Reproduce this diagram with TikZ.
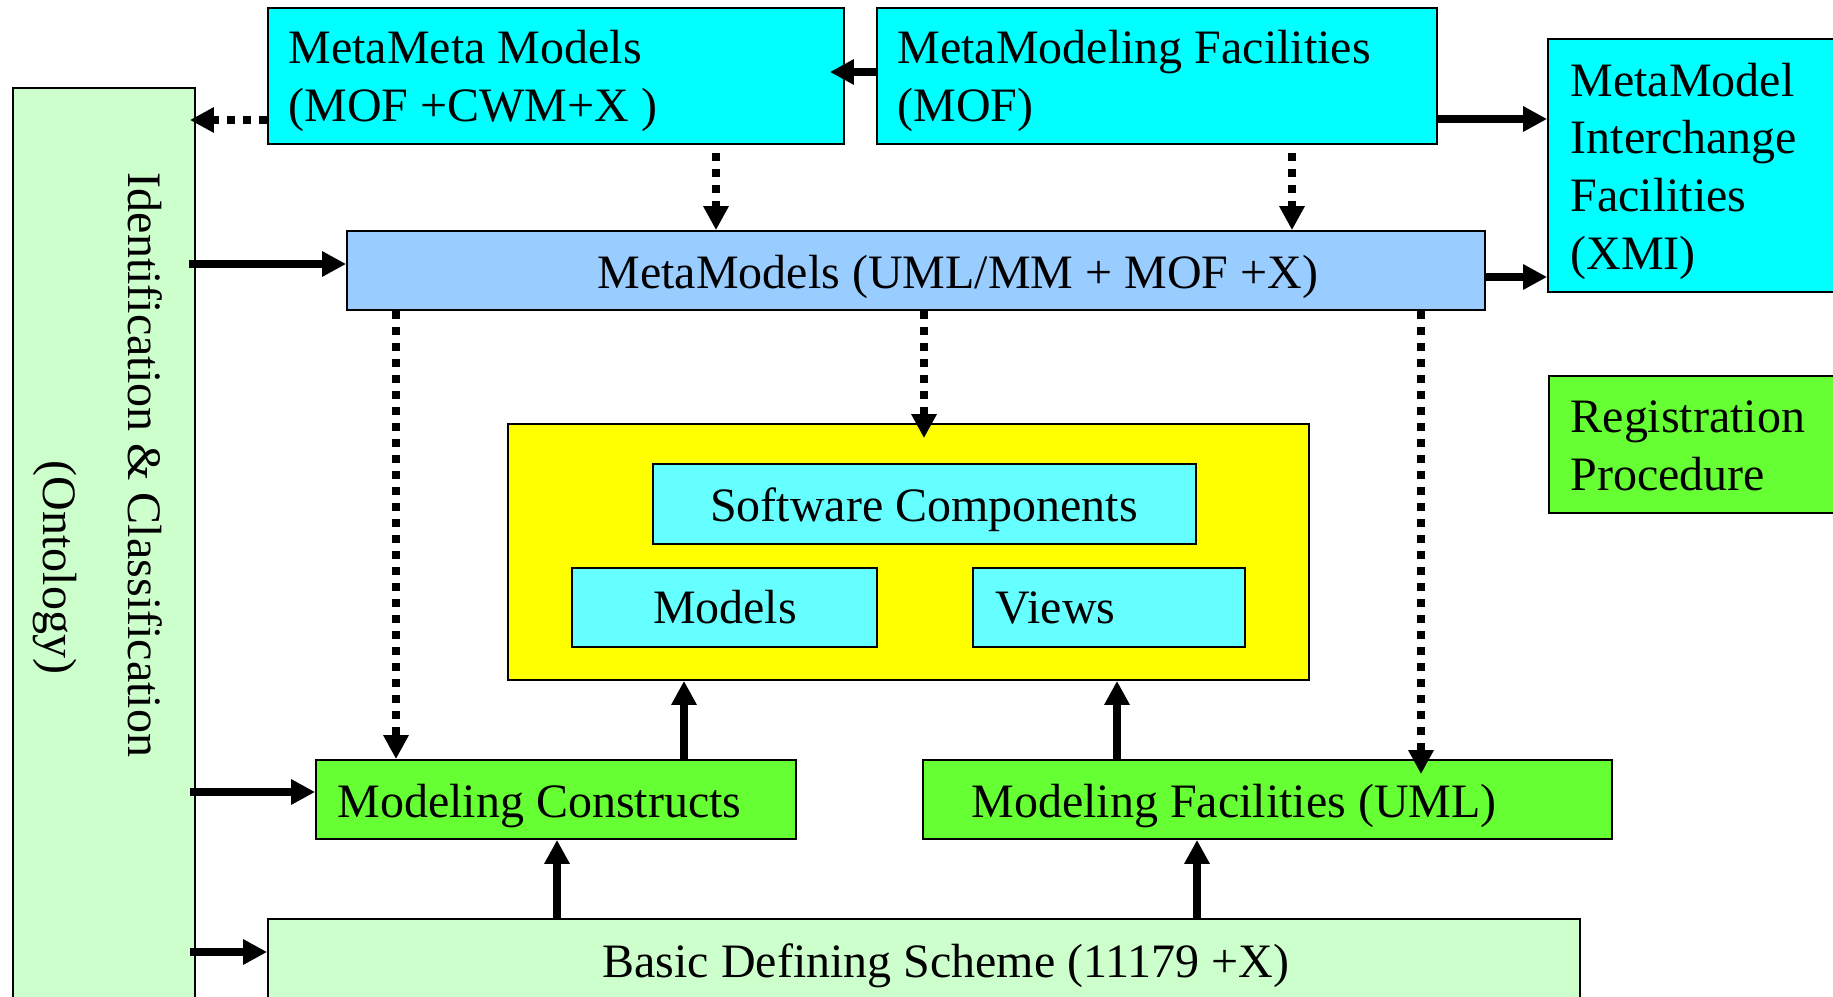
\documentclass[tikz,border=0pt]{standalone}
\usepackage{fontspec}
\setmainfont{Liberation Serif}
\usetikzlibrary{arrows.meta,fit}
\definecolor{cyanA}{HTML}{00FFFF}
\definecolor{cyanB}{HTML}{66FFFF}
\definecolor{blueA}{HTML}{99CCFF}
\definecolor{yellowA}{HTML}{FFFF00}
\definecolor{greenA}{HTML}{66FF33}
\definecolor{paleA}{HTML}{CCFFCC}
\tikzset{
  box/.style={draw=black, line width=0.5pt, inner sep=0pt},
  lbl/.style={font=\fontsize{13.64pt}{16.5pt}\selectfont, inner sep=0pt},
  rlbl/.style={font=\fontsize{13.66pt}{16.5pt}\selectfont, inner sep=0pt, rotate=-90, anchor=base west},
  arr/.style={line width=0.08cm, -{Triangle[length=0.24cm,width=0.24cm]}},
  darr/.style={arr, dash pattern=on 0.08cm off 0.08cm},
}
\begin{document}
\begin{tikzpicture}[x=0.01cm,y=-0.01cm]
\useasboundingbox (0,0) rectangle (1833,997);
\clip (0,0) rectangle (1833,997);
\fill[white] (0,0) rectangle (1833,997);
% boxes
\node[box, fill=paleA, fit={(13,88)(195,1030)}] (ident) {};
\node[box, fill=cyanA, fit={(268,8)(844,144)}] (mmm) {};
\node[box, fill=cyanA, fit={(877,8)(1437,144)}] (mmf) {};
\node[box, fill=cyanA, fit={(1548,39)(1860,292)}] (mmi) {};
\node[box, fill=blueA, fit={(347,231)(1485,310)}] (mmodels) {};
\node[box, fill=yellowA, fit={(508,424)(1309,680)}] (yellow) {};
\node[box, fill=cyanB, fit={(653,464)(1196,544)}] (sc) {};
\node[box, fill=cyanB, fit={(572,568)(877,647)}] (models) {};
\node[box, fill=cyanB, fit={(973,568)(1245,647)}] (views) {};
\node[box, fill=greenA, fit={(1549,376)(1860,513)}] (reg) {};
\node[box, fill=greenA, fit={(316,760)(796,839)}] (mc) {};
\node[box, fill=greenA, fit={(923,760)(1612,839)}] (mf) {};
\node[box, fill=paleA, fit={(268,919)(1580,1030)}] (basic) {};
% texts
\node[rlbl] (t-ident1) at (128,172) {Identification \& Classification};
\node[rlbl] (t-ident2) at (44,460) {(Ontology)};
\node[lbl, anchor=base west] (t-mmm1) at (288,64) {MetaMeta Models};
\node[lbl, anchor=base west] (t-mmm2) at (288,122) {(MOF +CWM+X )};
\node[lbl, anchor=base west] (t-mmf1) at (897,64) {MetaModeling Facilities};
\node[lbl, anchor=base west] (t-mmf2) at (897,122) {(MOF)};
\node[lbl, anchor=base west] (t-mmi1) at (1570,97) {MetaModel};
\node[lbl, anchor=base west] (t-mmi2) at (1570,154) {Interchange};
\node[lbl, anchor=base west] (t-mmi3) at (1570,212) {Facilities};
\node[lbl, anchor=base west] (t-mmi4) at (1570,269) {(XMI)};
\node[lbl, anchor=base west] (t-mmodels) at (597,288) {MetaModels (UML/MM + MOF +X)};
\node[lbl, anchor=base] (t-sc) at (924,521) {Software Components};
\node[lbl, anchor=base] (t-models) at (725,623) {Models};
\node[lbl, anchor=base west] (t-views) at (995,623) {Views};
\node[lbl, anchor=base west] (t-reg1) at (1570,432) {Registration};
\node[lbl, anchor=base west] (t-reg2) at (1570,490) {Procedure};
\node[lbl, anchor=base west] (t-mc) at (337,817) {Modeling Constructs};
\node[lbl, anchor=base west] (t-mf) at (971,817) {Modeling Facilities (UML)};
\node[lbl, anchor=base] (t-basic) at (946,977) {Basic Defining Scheme (11179 +X)};
% connectors
\draw[darr, shorten >=-0.06cm] (mmm.west |- 0,120) -- (ident.east |- 0,120);
\draw[arr, shorten >=-0.15cm] (mmf.west |- 0,72) -- (mmm.east |- 0,72);
\draw[darr, shorten <=0.08cm] (mmm.south -| 716,0) -- (mmodels.north -| 716,0);
\draw[darr, shorten <=0.08cm] (mmf.south -| 1292,0) -- (mmodels.north -| 1292,0);
\draw[arr] (mmf.east |- 0,119) -- (mmi.west |- 0,119);
\draw[arr] (mmodels.east |- 0,277) -- (mmi.west |- 0,277);
\draw[arr, shorten <=-0.07cm] (ident.east |- 0,264) -- (mmodels.west |- 0,264);
\draw[darr] (mmodels.south -| 396,0) -- (mc.north -| 396,0);
\draw[darr, shorten >=-0.15cm] (mmodels.south -| 924,0) -- (yellow.north -| 924,0);
\draw[darr, shorten >=-0.15cm] (mmodels.south -| 1421,0) -- (mf.north -| 1421,0);
\draw[arr] (mc.north -| 684,0) -- (yellow.south -| 684,0);
\draw[arr] (mf.north -| 1117,0) -- (yellow.south -| 1117,0);
\draw[arr] (basic.north -| 557,0) -- (mc.south -| 557,0);
\draw[arr] (basic.north -| 1197,0) -- (mf.south -| 1197,0);
\draw[arr, shorten <=-0.06cm] (ident.east |- 0,792) -- (mc.west |- 0,792);
\draw[arr, shorten <=-0.06cm] (ident.east |- 0,952) -- (basic.west |- 0,952);
\end{tikzpicture}
\end{document}
